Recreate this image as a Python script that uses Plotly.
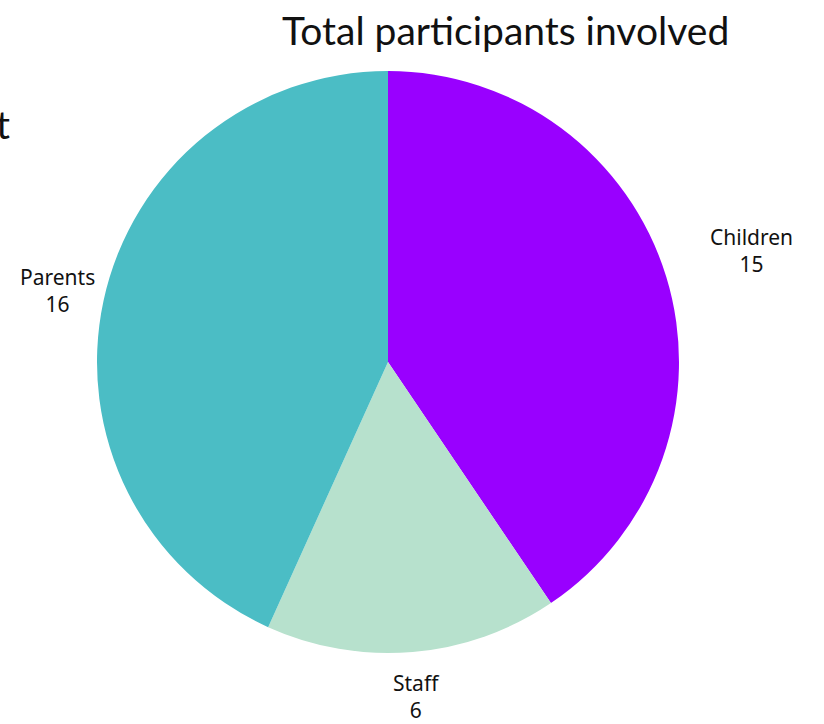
import math
import plotly.graph_objects as go

labels = ["Children", "Staff", "Parents"]
values = [15, 6, 16]
colors = ["#9900FF", "#B7E1CD", "#4BBDC5"]
label_dist = [380, 336, 338]  # label distance from centre, px (style)

W, H = 824, 724
cx, cy, R = 388, 362, 291

fig = go.Figure(go.Pie(
    labels=labels, values=values, sort=False, direction="clockwise", rotation=0,
    marker=dict(colors=colors, line=dict(width=0)),
    textinfo="none", hoverinfo="label+value",
    domain=dict(x=[(cx - R) / W, (cx + R) / W], y=[1 - (cy + R) / H, 1 - (cy - R) / H]),
))

total = sum(values)
cum = 0
anns = []
for lab, v, d in zip(labels, values, label_dist):
    mid = (cum + v / 2) / total * 2 * math.pi
    cum += v
    px = cx + d * math.sin(mid)
    py = cy - d * math.cos(mid)
    anns.append(dict(x=px / W, y=1 - py / H, xref="paper", yref="paper",
                     text=f"{lab}<br>{v}", showarrow=False,
                     font=dict(family="Noto Sans", size=21, color="#111111"),
                     xanchor="center", yanchor="middle", align="center"))

anns.append(dict(x=505 / W, y=1 - 30 / H, xref="paper", yref="paper",
                 text="Total participants involved", showarrow=False,
                 font=dict(family="Lato", size=39, color="#111111"),
                 xanchor="center", yanchor="middle"))
anns.append(dict(x=12 / W, y=1 - 124 / H, xref="paper", yref="paper",
                 text="t", showarrow=False,
                 font=dict(family="Lato", size=39, color="#111111"),
                 xanchor="right", yanchor="middle"))

fig.update_layout(
    width=W, height=H, margin=dict(l=0, r=0, t=0, b=0),
    paper_bgcolor="white", plot_bgcolor="white", showlegend=False,
    annotations=anns,
)
fig.write_html("out.html")
